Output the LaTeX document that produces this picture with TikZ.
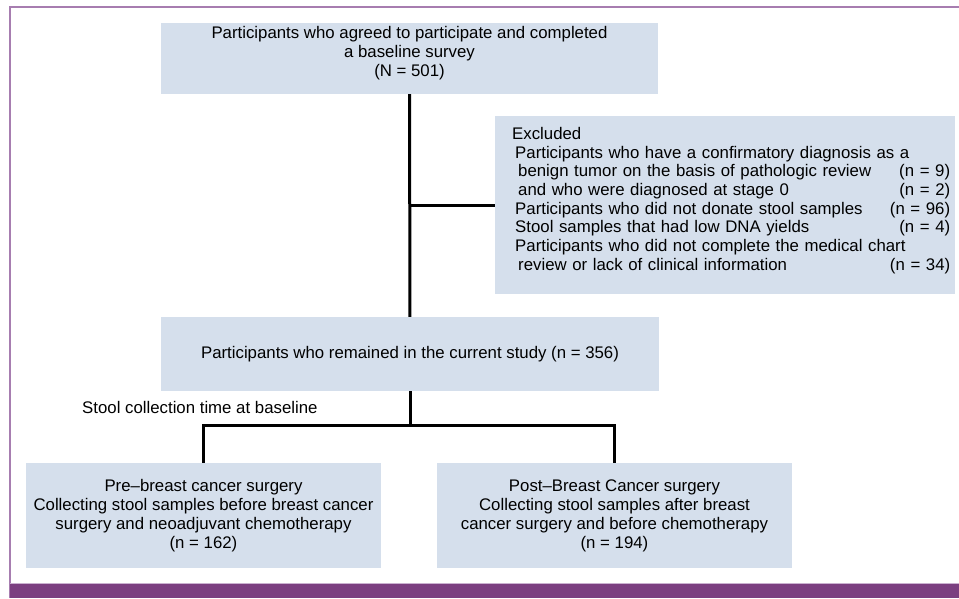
\documentclass[tikz,border=0pt]{standalone}
\usepackage{fontspec}
\setmainfont{Liberation Sans}
\usetikzlibrary{positioning}
\definecolor{boxfill}{HTML}{D5DFEC}
\definecolor{framelila}{HTML}{A77DB0}
\definecolor{bandlila}{HTML}{7B3F80}
\tikzset{
	box/.style={fill=boxfill, inner sep=0pt, align=center},
	link/.style={line width=3pt, line join=miter}
}
\begin{document}
\begin{tikzpicture}
		[x=1pt, y=-1pt, font=\fontsize{16.8}{19}\selectfont]
		\useasboundingbox (0,0) rectangle (959,598);
		% frame
		\draw[framelila, line width=1.5pt] (10,598) -- (10,7) -- (959,7);
		\fill[bandlila] (10,583.5) rectangle (959,598);
		\draw[framelila!60, line width=0.8pt] (10,583.5) -- (959,583.5);
		% boxes
		\node[box, minimum width=497pt, minimum height=71pt] (base) at (409.5,58.5) {};
		\node[align=center, anchor=north, inner sep=0pt] (basetext) at (409.5,26)
			{Participants who agreed to participate and completed\\ a baseline survey\\ (N = 501)};
		\node[box, minimum width=460pt, minimum height=178pt] (excl) at (725,205) {};
		\node[align=left, anchor=north west, inner sep=0pt, text width=438pt,
			font=\fontsize{16.8}{18.7}\selectfont] (excltext) at (512,127)
			{Excluded\\
			\hspace*{3pt}Participants who have a confirmatory diagnosis as a\\
			\hspace*{6pt}benign tumor on the basis of pathologic review\hfill(n = 9)\\
			\hspace*{6pt}and who were diagnosed at stage 0\hfill(n = 2)\\
			\hspace*{3pt}Participants who did not donate stool samples\hfill(n = 96)\\
			\hspace*{3pt}Stool samples that had low DNA yields\hfill(n = 4)\\
			\hspace*{3pt}Participants who did not complete the medical chart\\
			\hspace*{6pt}review or lack of clinical information\hfill(n = 34)};
		\node[box, minimum width=498pt, minimum height=74pt] (remain) at (410,354)
			{Participants who remained in the current study (n = 356)};
		\node[anchor=west, inner sep=0pt] (stool) at (82,407) {Stool collection time at baseline};
		\node[box, minimum width=355pt, minimum height=105pt] (pre) at (203.5,515.5)
			{Pre--breast cancer surgery\\ Collecting stool samples before breast cancer\\
			surgery and neoadjuvant chemotherapy\\ (n = 162)};
		\node[box, minimum width=355pt, minimum height=105pt] (post) at (614.5,515.5)
			{Post--Breast Cancer surgery\\ Collecting stool samples after breast\\
			cancer surgery and before chemotherapy\\ (n = 194)};
		% connectors
		\coordinate (split) at (410,205);
		\coordinate (fork) at (410,425);
		\draw[link] (base) -- (remain);
		\draw[link] (split) -- (excl.west);
		\draw[link] (remain) -- (fork);
		\draw[link] (pre.north) |- (fork) -| (post.north);
	\end{tikzpicture}
\end{document}
